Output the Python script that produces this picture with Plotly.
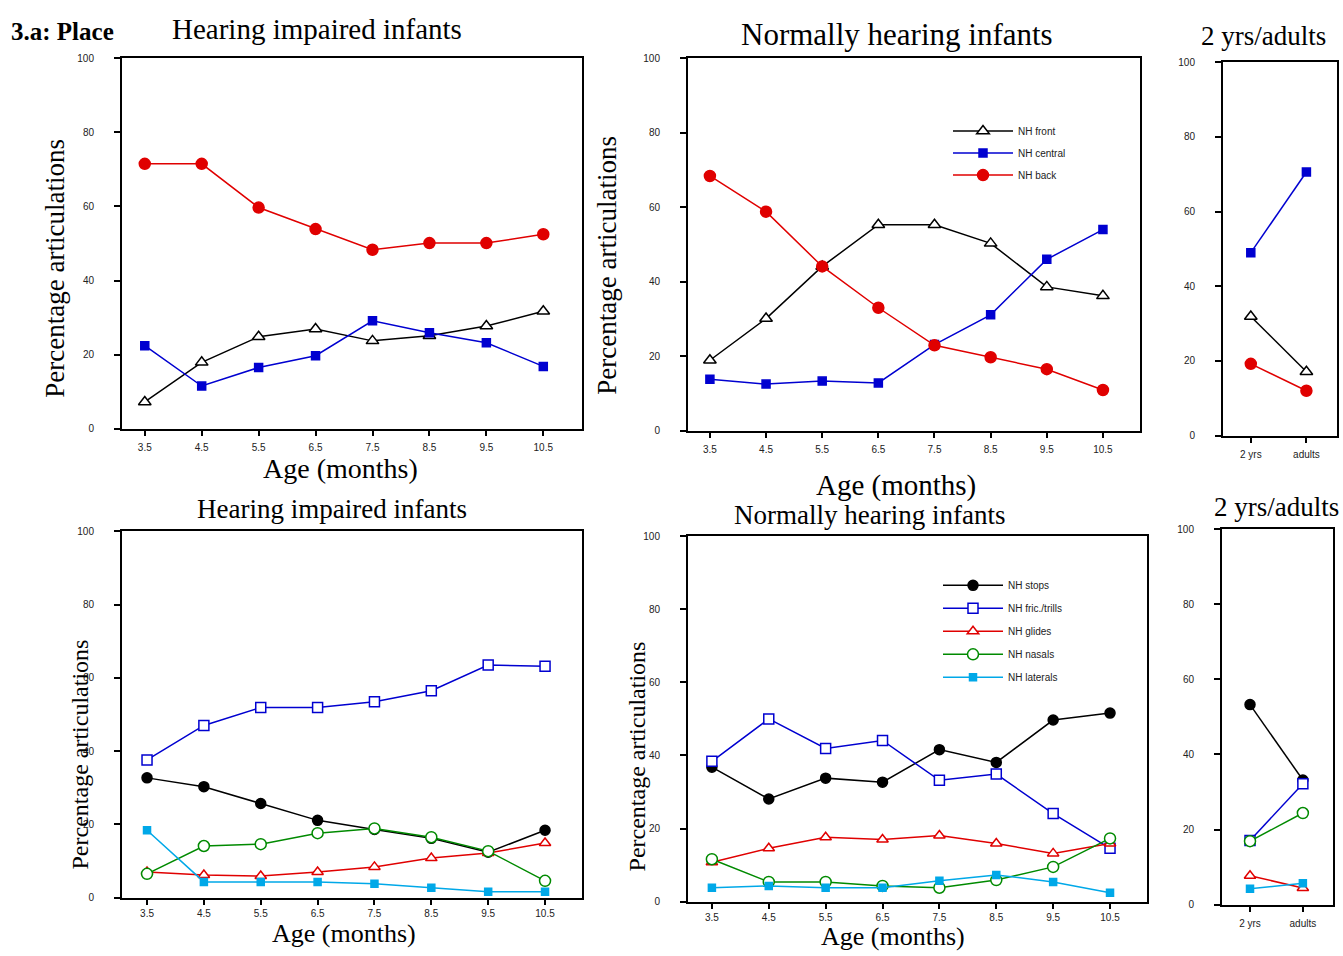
import plotly.graph_objects as go

W, H = 1343, 956

ages = [3.5, 4.5, 5.5, 6.5, 7.5, 8.5, 9.5, 10.5]
age_labels = ["3.5", "4.5", "5.5", "6.5", "7.5", "8.5", "9.5", "10.5"]
groups = ["2 yrs", "adults"]

# Place - hearing impaired
hi_front = [7.2, 17.9, 24.8, 26.9, 23.7, 25.1, 27.7, 31.7]
hi_central = [22.4, 11.5, 16.5, 19.7, 29.1, 25.9, 23.2, 16.8]
hi_back = [71.5, 71.5, 59.7, 53.9, 48.3, 50.1, 50.1, 52.5]
# Place - normally hearing
nh_front = [18.9, 30.1, 44.1, 55.3, 55.3, 50.3, 38.6, 36.2]
nh_central = [13.8, 12.5, 13.3, 12.8, 23.1, 31.1, 46.0, 54.0]
nh_back = [68.4, 58.8, 44.1, 33.0, 22.9, 19.7, 16.5, 10.9]
# Place - 2 yrs / adults
ad_front = [31.9, 17.1]
ad_central = [49.0, 70.6]
ad_back = [19.2, 12.0]

# Manner - hearing impaired
hi_stops = [32.7, 30.3, 25.7, 21.1, 18.6, 16.2, 12.4, 18.4]
hi_fric = [37.6, 47.0, 51.9, 51.9, 53.5, 56.5, 63.5, 63.2]
hi_glides = [7.0, 6.2, 5.9, 7.0, 8.4, 10.8, 12.2, 14.9]
hi_nasals = [6.5, 14.1, 14.6, 17.6, 18.9, 16.5, 12.7, 4.6]
hi_laterals = [18.4, 4.3, 4.3, 4.3, 3.8, 2.7, 1.6, 1.6]
# Manner - normally hearing
nh_stops = [36.8, 28.1, 33.8, 32.7, 41.6, 38.1, 49.7, 51.6]
nh_fric = [38.4, 50.0, 41.9, 44.1, 33.2, 34.9, 24.1, 14.6]
nh_glides = [10.8, 14.6, 17.6, 17.0, 18.1, 15.9, 13.2, 15.9]
nh_nasals = [11.6, 5.4, 5.4, 4.3, 3.8, 5.9, 9.5, 17.3]
nh_laterals = [3.8, 4.3, 3.8, 3.8, 5.7, 7.3, 5.4, 2.4]
# Manner - 2 yrs / adults
ad_stops = [53.3, 33.2]
ad_fric = [17.1, 32.2]
ad_glides = [7.7, 4.4]
ad_nasals = [16.9, 24.4]
ad_laterals = [4.2, 5.7]

BLACK = "#000000"
RED = "#e00000"
BLUE = "#0000d0"
GREEN = "#008a00"
CYAN = "#00a8e8"

styles = {
    "front": dict(color=BLACK, symbol="triangle-up", fill="white", size=11),
    "central": dict(color=BLUE, symbol="square", fill=BLUE, size=8),
    "back": dict(color=RED, symbol="circle", fill=RED, size=11),
    "stops": dict(color=BLACK, symbol="circle", fill=BLACK, size=10),
    "fric": dict(color=BLUE, symbol="square", fill="white", size=10),
    "glides": dict(color=RED, symbol="triangle-up", fill="white", size=10),
    "nasals": dict(color=GREEN, symbol="circle", fill="white", size=11),
    "laterals": dict(color=CYAN, symbol="square", fill=CYAN, size=7),
}

def X(px):
    return px / W

def Y(py):
    return 1 - py / H

fig = go.Figure()

def add(ax, xs, ys, key, name=None, legend=None):
    s = styles[key]
    fig.add_trace(go.Scatter(
        x=xs, y=ys, mode="lines+markers",
        xaxis="x" + (str(ax) if ax > 1 else ""),
        yaxis="y" + (str(ax) if ax > 1 else ""),
        line=dict(color=s["color"], width=1.5),
        marker=dict(symbol=s["symbol"], size=s["size"], color=s["fill"],
                    line=dict(color=s["color"], width=1.5)),
        name=name if name else key,
        legendgroup=(name if name else key) + str(ax),
        showlegend=legend is not None,
        legend=legend if legend else "legend",
        cliponaxis=False,
    ))

# Panel 1
add(1, ages, hi_front, "front")
add(1, ages, hi_central, "central")
add(1, ages, hi_back, "back")
# Panel 2
add(2, ages, nh_front, "front", "NH front", "legend")
add(2, ages, nh_central, "central", "NH central", "legend")
add(2, ages, nh_back, "back", "NH back", "legend")
# Panel 3
add(3, groups, ad_front, "front")
add(3, groups, ad_central, "central")
add(3, groups, ad_back, "back")
# Panel 4
add(4, ages, hi_stops, "stops")
add(4, ages, hi_fric, "fric")
add(4, ages, hi_glides, "glides")
add(4, ages, hi_nasals, "nasals")
add(4, ages, hi_laterals, "laterals")
# Panel 5
add(5, ages, nh_stops, "stops", "NH stops", "legend2")
add(5, ages, nh_fric, "fric", "NH fric./trills", "legend2")
add(5, ages, nh_glides, "glides", "NH glides", "legend2")
add(5, ages, nh_nasals, "nasals", "NH nasals", "legend2")
add(5, ages, nh_laterals, "laterals", "NH laterals", "legend2")
# Panel 6
add(6, groups, ad_stops, "stops")
add(6, groups, ad_fric, "fric")
add(6, groups, ad_glides, "glides")
add(6, groups, ad_nasals, "nasals")
add(6, groups, ad_laterals, "laterals")

tickfont = dict(family="Liberation Sans, Arial, sans-serif", size=10, color="#222222")

panels = {
    1: dict(x=(122, 582), y=(53, 428), xr=[3.1, 11.18], cat=False, so=3),
    2: dict(x=(688, 1140), y=(53, 430), xr=[3.11, 11.16], cat=False, so=3),
    3: dict(x=(1223, 1337), y=(57, 435), xr=[-0.5, 1.55], cat=True, so=3),
    4: dict(x=(122, 582), y=(532, 903), xr=[3.06, 11.15], cat=False, so=0),
    5: dict(x=(688, 1147), y=(537, 907), xr=[3.08, 11.15], cat=False, so=0),
    6: dict(x=(1222, 1333), y=(530, 910), xr=[-0.53, 1.57], cat=True, so=3),
}

layout = {}
for i, p in panels.items():
    sfx = str(i) if i > 1 else ""
    xa = dict(
        domain=[X(p["x"][0]), X(p["x"][1])],
        range=p["xr"], anchor="y" + sfx,
        showline=True, mirror=True, linecolor="black", linewidth=2,
        ticks="outside", ticklen=5, tickwidth=1.5, tickcolor="black",
        showgrid=False, zeroline=False, tickfont=tickfont,
        ticklabelstandoff=p["so"],
    )
    if p["cat"]:
        xa.update(type="category")
    else:
        xa.update(tickmode="array", tickvals=ages, ticktext=age_labels)
    ya = dict(
        domain=[Y(p["y"][1]), Y(p["y"][0])],
        range=[0, 100], anchor="x" + sfx,
        showline=True, mirror=True, linecolor="black", linewidth=2,
        ticks="outside", ticklen=6, tickwidth=1.5, tickcolor="black",
        tickvals=[0, 20, 40, 60, 80, 100],
        showgrid=False, zeroline=False, tickfont=tickfont, ticklabelstandoff=18,
    )
    layout["xaxis" + sfx] = xa
    layout["yaxis" + sfx] = ya

serif = "Liberation Serif, Times New Roman, serif"

def ann(text, px, py, size, angle=0, bold=False):
    return dict(text=("<b>%s</b>" % text) if bold else text,
                x=X(px), y=Y(py), xref="paper", yref="paper",
                xanchor="center", yanchor="middle", showarrow=False,
                textangle=angle,
                font=dict(family=serif, size=size, color="black"))

annotations = [
    ann("3.a: Place", 62, 26, 25, bold=True),
    ann("Hearing impaired infants", 317, 23, 29),
    ann("Normally hearing infants", 897, 29, 31),
    ann("2 yrs/adults", 1263, 30, 27),
    ann("Age (months)", 340, 468, 28),
    ann("Age (months)", 896, 486, 29),
    ann("Percentage articulations", 55, 266, 27, angle=-90),
    ann("Percentage articulations", 607, 263, 27, angle=-90),
    ann("Hearing impaired infants", 332, 509, 27),
    ann("Normally hearing infants", 869, 515, 27),
    ann("2 yrs/adults", 1276, 507, 27),
    ann("Age (months)", 344, 939, 26),
    ann("Age (months)", 893, 942, 26),
    ann("Percentage articulations", 80, 758, 24, angle=-90),
    ann("Percentage articulations", 637, 760, 24, angle=-90),
]

legfont = dict(family="Liberation Sans, Arial, sans-serif", size=10, color="#222222")

fig.update_layout(
    width=W, height=H,
    margin=dict(l=0, r=0, t=0, b=0),
    paper_bgcolor="white", plot_bgcolor="white",
    annotations=annotations,
    legend=dict(x=X(948), y=Y(112), xanchor="left", yanchor="top",
                font=legfont, bgcolor="rgba(0,0,0,0)", itemwidth=60,
                traceorder="grouped", tracegroupgap=3),
    legend2=dict(x=X(938), y=Y(572), xanchor="left", yanchor="top",
                 font=legfont, bgcolor="rgba(0,0,0,0)", itemwidth=60,
                 traceorder="grouped", tracegroupgap=4),
    **layout,
)

fig.write_html(
    "out.html",
    config={"displayModeBar": False},
    post_script="document.body.style.margin='0';document.body.style.overflow='hidden';",
)
